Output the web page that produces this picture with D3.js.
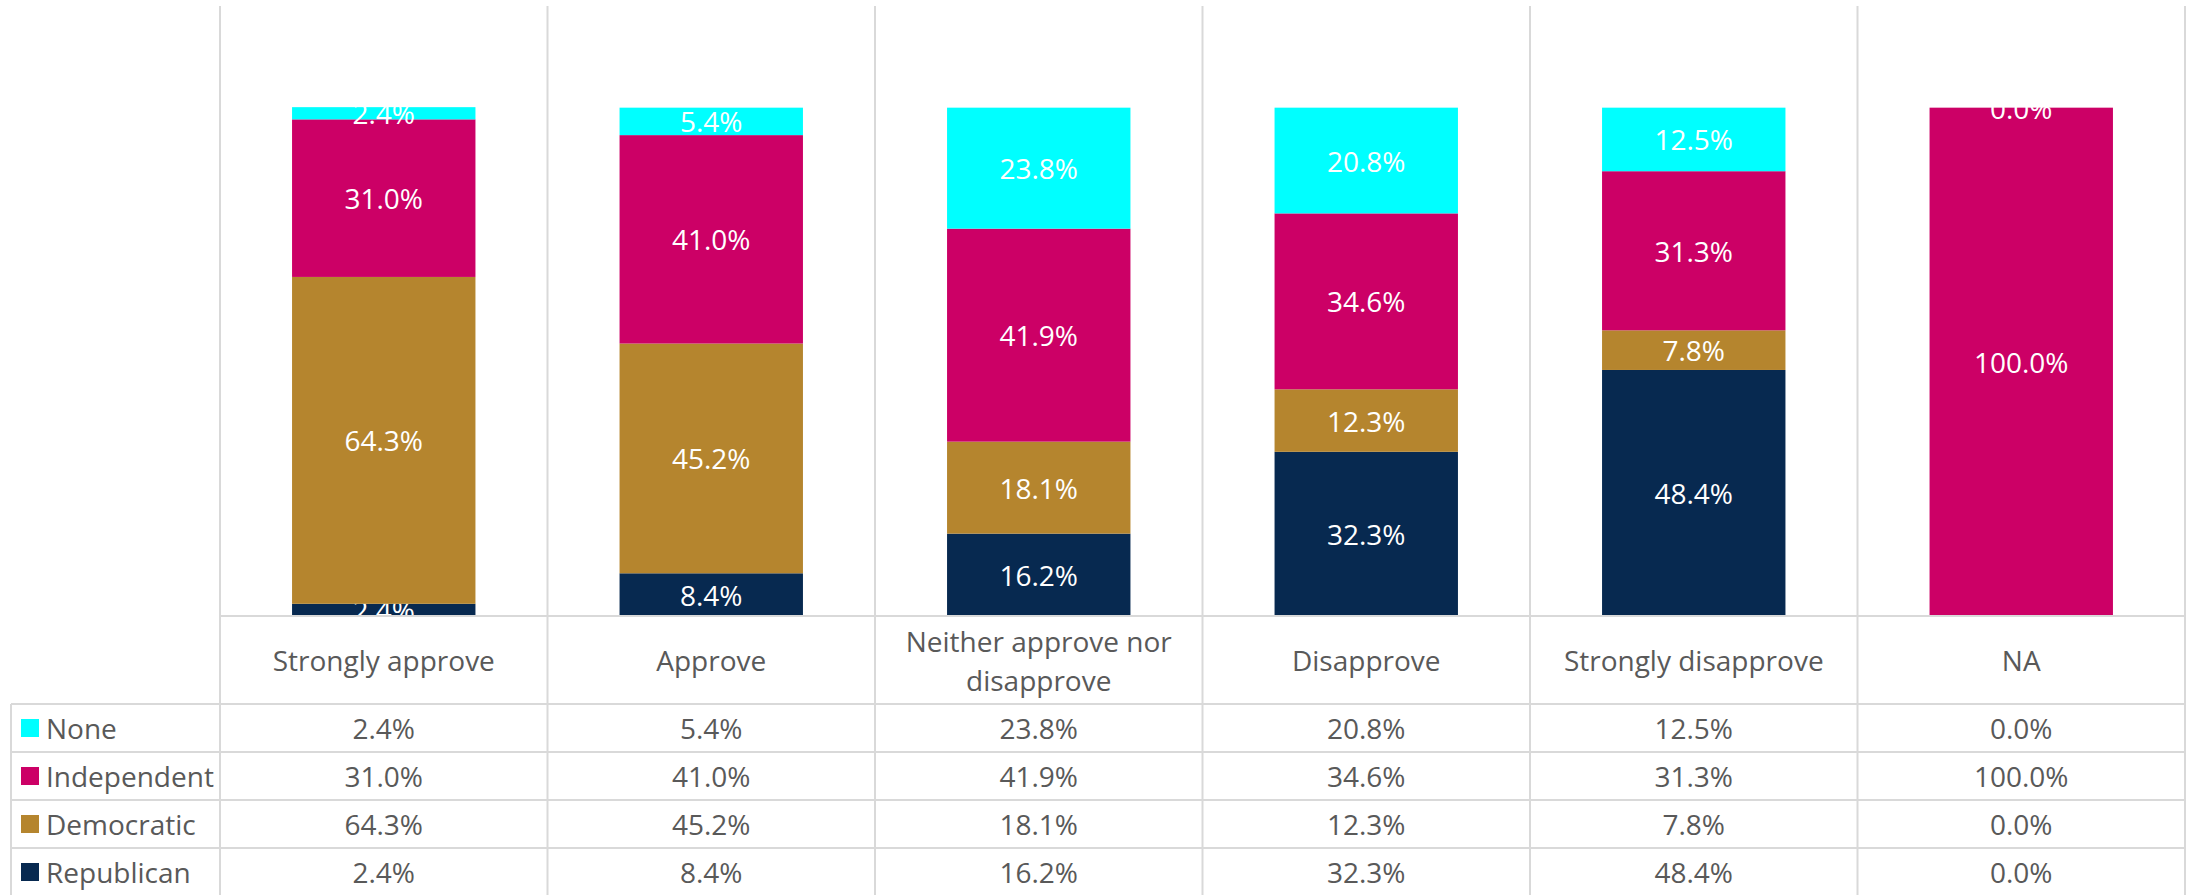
<!DOCTYPE html>
<html>
<head>
	<meta charset="utf-8" />
	<title>Party by approval</title>
	<script src="https://cdn.jsdelivr.net/npm/d3@7"></script>
	<style>
		body { margin: 0; background: #fff; }
		text { font-family: "Open Sans", Lato, sans-serif; }
	</style>
</head>
<body>
<script>

// categories along the bottom
var categories = ["Strongly approve", "Approve", "Neither approve nor disapprove", "Disapprove", "Strongly disapprove", "NA"];

// series, stacked bottom to top
var series = ["Republican", "Democratic", "Independent", "None"];
var colors = ["#072950", "#b5852e", "#cc0066", "#00ffff"];

var republican  = [0.024, 0.084, 0.162, 0.323, 0.484, 0.0];
var democratic  = [0.643, 0.452, 0.181, 0.123, 0.078, 0.0];
var independent = [0.310, 0.410, 0.419, 0.346, 0.313, 1.0];
var none        = [0.024, 0.054, 0.238, 0.208, 0.125, 0.0];

var values = [republican, democratic, independent, none];

// table rows, top to bottom
var tableRows = ["None", "Independent", "Democratic", "Republican"];

var width = 2191, height = 895;
var fmt = d3.format(".1%");
var fontSize = 28;
var textGray = "#595959";
var lineGray = "#d9d9d9";

var svg = d3.select("body").append("svg")
	.attr("width", width)
	.attr("height", height);

var plotLeft = 220, plotRight = 2185, plotTop = 6, axisY = 616;
var tableLeft = 11, tableTop = 704;

var cellX = d3.scaleBand().domain(categories).range([plotLeft, plotRight]);
var barX = d3.scaleBand().domain(categories).range([plotLeft, plotRight])
	.paddingInner(0.44).paddingOuter(0.22);
var y = d3.scaleLinear().domain([0, 1.2]).range([axisY, plotTop]);
var rowY = d3.scaleBand().domain(tableRows).range([tableTop, tableTop + 48 * tableRows.length]);

// stack data
var rows = categories.map(function(c, i) {
	var r = { cat: c };
	series.forEach(function(s, j) { r[s] = values[j][i]; });
	return r;
});
var stacked = d3.stack().keys(series)(rows);

var layers = svg.selectAll("g.layer")
	.data(stacked)
	.enter()
	.append("g")
	.attr("class", "layer")
	.attr("fill", function(d, i) { return colors[i]; });

layers.selectAll("rect")
	.data(function(d) { return d; })
	.enter()
	.append("rect")
	.attr("x", function(d) { return barX(d.data.cat); })
	.attr("width", barX.bandwidth())
	.attr("y", function(d) { return y(d[1]); })
	.attr("height", function(d) { return y(d[0]) - y(d[1]); });

// data labels
layers.selectAll("text")
	.data(function(d) { return d.map(function(p) { return { p: p, key: d.key }; }); })
	.enter()
	.append("text")
	.attr("fill", "#fff")
	.attr("font-size", fontSize)
	.attr("text-anchor", "middle")
	.attr("dominant-baseline", "central")
	.attr("x", function(d) { return barX(d.p.data.cat) + barX.bandwidth() / 2; })
	.attr("y", function(d) { return (y(d.p[0]) + y(d.p[1])) / 2; })
	.text(function(d) { return fmt(d.p.data[d.key]); });

// category labels, wrapped
var catLabels = svg.selectAll("text.cat")
	.data(categories)
	.enter()
	.append("text")
	.attr("class", "cat")
	.attr("fill", textGray)
	.attr("font-size", fontSize)
	.attr("text-anchor", "middle")
	.attr("x", function(d) { return cellX(d) + cellX.bandwidth() / 2; })
	.each(function(d) {
		var el = d3.select(this);
		var words = d.split(" ");
		var lines = [], line = [];
		words.forEach(function(w) {
			line.push(w);
			el.text(line.join(" "));
			if (this.getComputedTextLength() > cellX.bandwidth() - 20 && line.length > 1) {
				line.pop();
				lines.push(line.join(" "));
				line = [w];
			}
		}, this);
		lines.push(line.join(" "));
		el.text(null);
		var lh = 39;
		var mid = (axisY + tableTop) / 2;
		lines.forEach(function(l, i) {
			el.append("tspan")
				.attr("x", cellX(d) + cellX.bandwidth() / 2)
				.attr("y", mid + (i - (lines.length - 1) / 2) * lh)
				.attr("dominant-baseline", "central")
				.text(l);
		});
	});

// table values
tableRows.forEach(function(s) {
	var j = series.indexOf(s);
	svg.selectAll(null)
		.data(categories)
		.enter()
		.append("text")
		.attr("fill", textGray)
		.attr("font-size", fontSize)
		.attr("text-anchor", "middle")
		.attr("dominant-baseline", "central")
		.attr("x", function(d) { return cellX(d) + cellX.bandwidth() / 2; })
		.attr("y", rowY(s) + rowY.bandwidth() / 2)
		.text(function(d, i) { return fmt(values[j][i]); });

	svg.append("rect")
		.attr("x", 21)
		.attr("y", rowY(s) + rowY.bandwidth() / 2 - 9)
		.attr("width", 18)
		.attr("height", 18)
		.attr("fill", colors[j]);

	svg.append("text")
		.attr("fill", textGray)
		.attr("font-size", fontSize)
		.attr("dominant-baseline", "central")
		.attr("x", 46)
		.attr("y", rowY(s) + rowY.bandwidth() / 2)
		.text(s);
});

// grid lines
var grid = svg.append("g")
	.attr("stroke", lineGray)
	.attr("stroke-width", 2);

var edges = categories.map(function(c) { return cellX(c); }).concat([plotRight]);
grid.selectAll("line.v")
	.data(edges)
	.enter()
	.append("line")
	.attr("x1", function(d) { return d; })
	.attr("x2", function(d) { return d; })
	.attr("y1", plotTop)
	.attr("y2", height);

grid.append("line")
	.attr("x1", plotLeft).attr("x2", plotRight)
	.attr("y1", axisY).attr("y2", axisY);

grid.selectAll("line.h")
	.data(tableRows)
	.enter()
	.append("line")
	.attr("x1", tableLeft).attr("x2", plotRight)
	.attr("y1", function(d) { return rowY(d); })
	.attr("y2", function(d) { return rowY(d); });

grid.append("line")
	.attr("x1", tableLeft).attr("x2", tableLeft)
	.attr("y1", tableTop).attr("y2", height);

</script>
</body>
</html>
